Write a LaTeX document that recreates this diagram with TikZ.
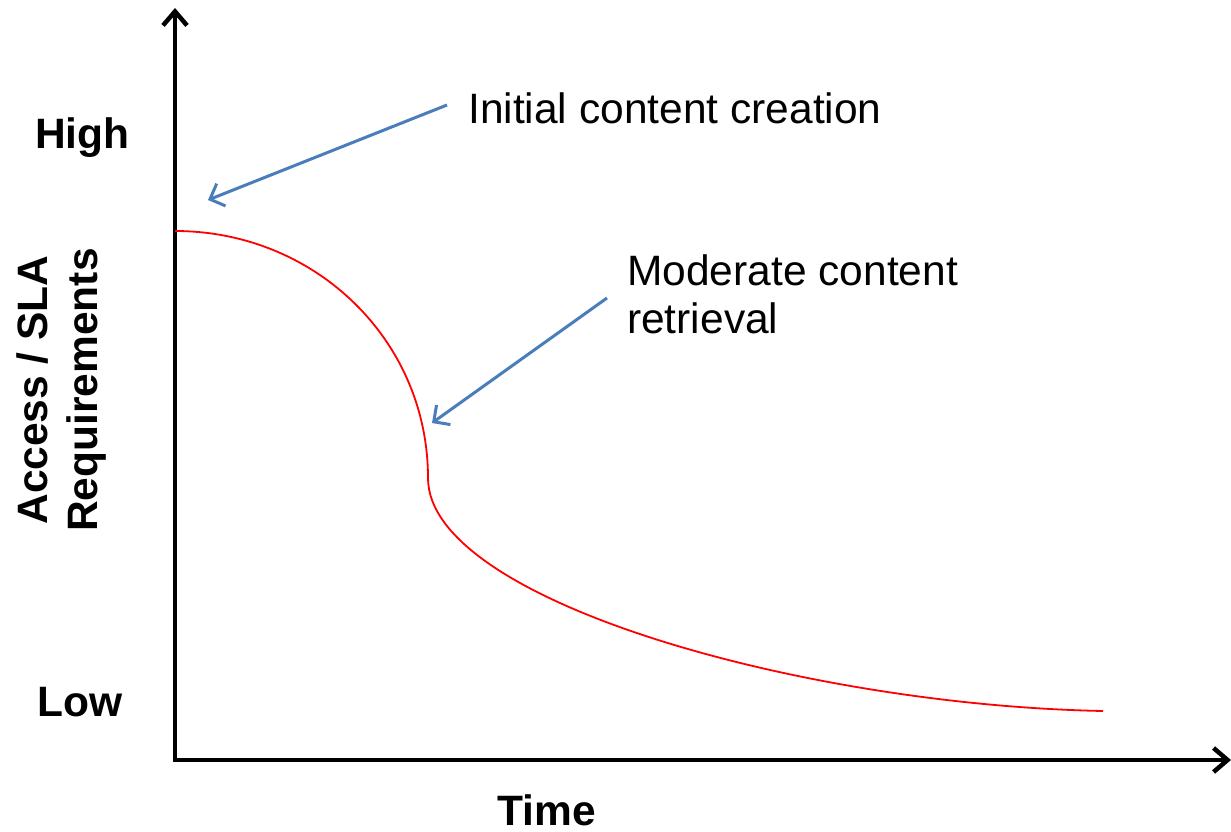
\documentclass[tikz,border=0pt]{standalone}
\usepackage{fontspec}
\setmainfont{Liberation Sans}
\usetikzlibrary{arrows.meta}
\definecolor{callblue}{RGB}{74,126,187}
\definecolor{curvered}{RGB}{255,0,0}
\tikzset{
  axis/.style={line width=4.5pt,-{Straight Barb[length=14pt,width=24pt,line width=4.5pt]}},
  callout/.style={callblue,line width=3pt,-{Straight Barb[length=12pt,width=24pt,line width=3pt]}},
  lbl/.style={inner sep=0pt,anchor=base west,font=\fontsize{42.5}{48}\selectfont},
  blbl/.style={inner sep=0pt,font=\fontsize{42.5}{50}\selectfont\bfseries},
}
\begin{document}
\begin{tikzpicture}[x=1pt,y=-1pt]
\useasboundingbox (0,0) rectangle (1231,832);
\coordinate (O) at (175,760);
\coordinate (ytop) at (175,8);
\coordinate (xend) at (1231,760);
\draw[axis] (O) -- (ytop);
\draw[axis] ([xshift=-2.25pt]O) -- (xend);
% curve
\coordinate (c0) at (175,231);
\coordinate (c1) at (428,478);
\coordinate (c2) at (1103,711);
\draw[curvered,line width=1.8pt] (c0) .. controls (315,231) and (428,340) .. (c1)
  .. controls (428,600) and (800,705) .. (c2);
% labels
\node[blbl,anchor=base west] (high) at (35,148) {High};
\node[blbl,anchor=base west] (low) at (37,716) {Low};
\node[blbl,anchor=base] (time) at (547,825) {Time};
\node[blbl,rotate=90,align=center] (ylab) at (62,390) {Access / SLA\\Requirements};
\node[lbl] (t1) at (468,124) {Initial content creation};
\node[lbl,anchor=base west] (t2) at (627,285) {Moderate content};
\node[lbl,anchor=base west] (t3) at (627,333) {retrieval};
\coordinate (a1s) at (447,105);
\coordinate (a1e) at (208,200);
\coordinate (a2s) at (607,298);
\coordinate (a2e) at (432,423);
\draw[callout] (a1s) -- (a1e);
\draw[callout] (a2s) -- (a2e);
\end{tikzpicture}
\end{document}
